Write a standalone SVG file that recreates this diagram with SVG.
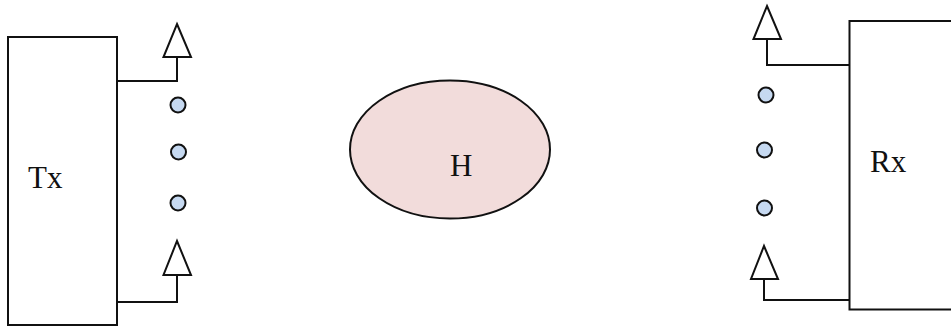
<svg xmlns="http://www.w3.org/2000/svg" width="951" height="329" viewBox="0 0 951 329">
<style>
.box{fill:#fff;stroke:#111;stroke-width:2}
.ant{fill:#fff;stroke:#111;stroke-width:2;stroke-linejoin:miter}
.wire{fill:none;stroke:#111;stroke-width:2}
.dot{fill:#c6d9f1;stroke:#111;stroke-width:2}
.lbl{font-family:"Liberation Serif","Times New Roman",serif;font-size:31px;fill:#111}
</style>
<rect width="951" height="329" fill="#fff"/>
<g id="connectors">
<path class="wire" d="M117 81H177V57"/>
<path class="wire" d="M117 302H177V275"/>
<path class="wire" d="M849 65H767V39"/>
<path class="wire" d="M849 300H764V279"/>
</g>
<g id="tx"><rect class="box" x="8" y="37" width="109" height="288"/><text class="lbl" x="28" y="188">Tx</text></g>
<g id="rx"><rect class="box" x="849.500" y="21" width="120" height="288.500"/><text class="lbl" x="870" y="172">Rx</text></g>
<g id="channel"><ellipse cx="450" cy="149.500" rx="100" ry="69" fill="#f2dcdb" stroke="#111" stroke-width="2"/><text class="lbl" x="450" y="176">H</text></g>
<g id="tx-antenna-top"><polygon class="ant" points="177,24 191,57 163.500,57"/></g>
<g id="tx-antenna-bottom"><polygon class="ant" points="177,241 191,275 163.500,275"/></g>
<g id="rx-antenna-top"><polygon class="ant" points="767,6 781,39 753.500,39"/></g>
<g id="rx-antenna-bottom"><polygon class="ant" points="764,246 778,279 751,279"/></g>
<g id="tx-dot-1"><circle class="dot" cx="178" cy="105" r="7.500"/></g>
<g id="tx-dot-2"><circle class="dot" cx="178.500" cy="152" r="7.500"/></g>
<g id="tx-dot-3"><circle class="dot" cx="178" cy="203" r="7.500"/></g>
<g id="rx-dot-1"><circle class="dot" cx="766" cy="95" r="7.500"/></g>
<g id="rx-dot-2"><circle class="dot" cx="764.500" cy="150" r="7.500"/></g>
<g id="rx-dot-3"><circle class="dot" cx="764.500" cy="208" r="7.500"/></g>
</svg>
